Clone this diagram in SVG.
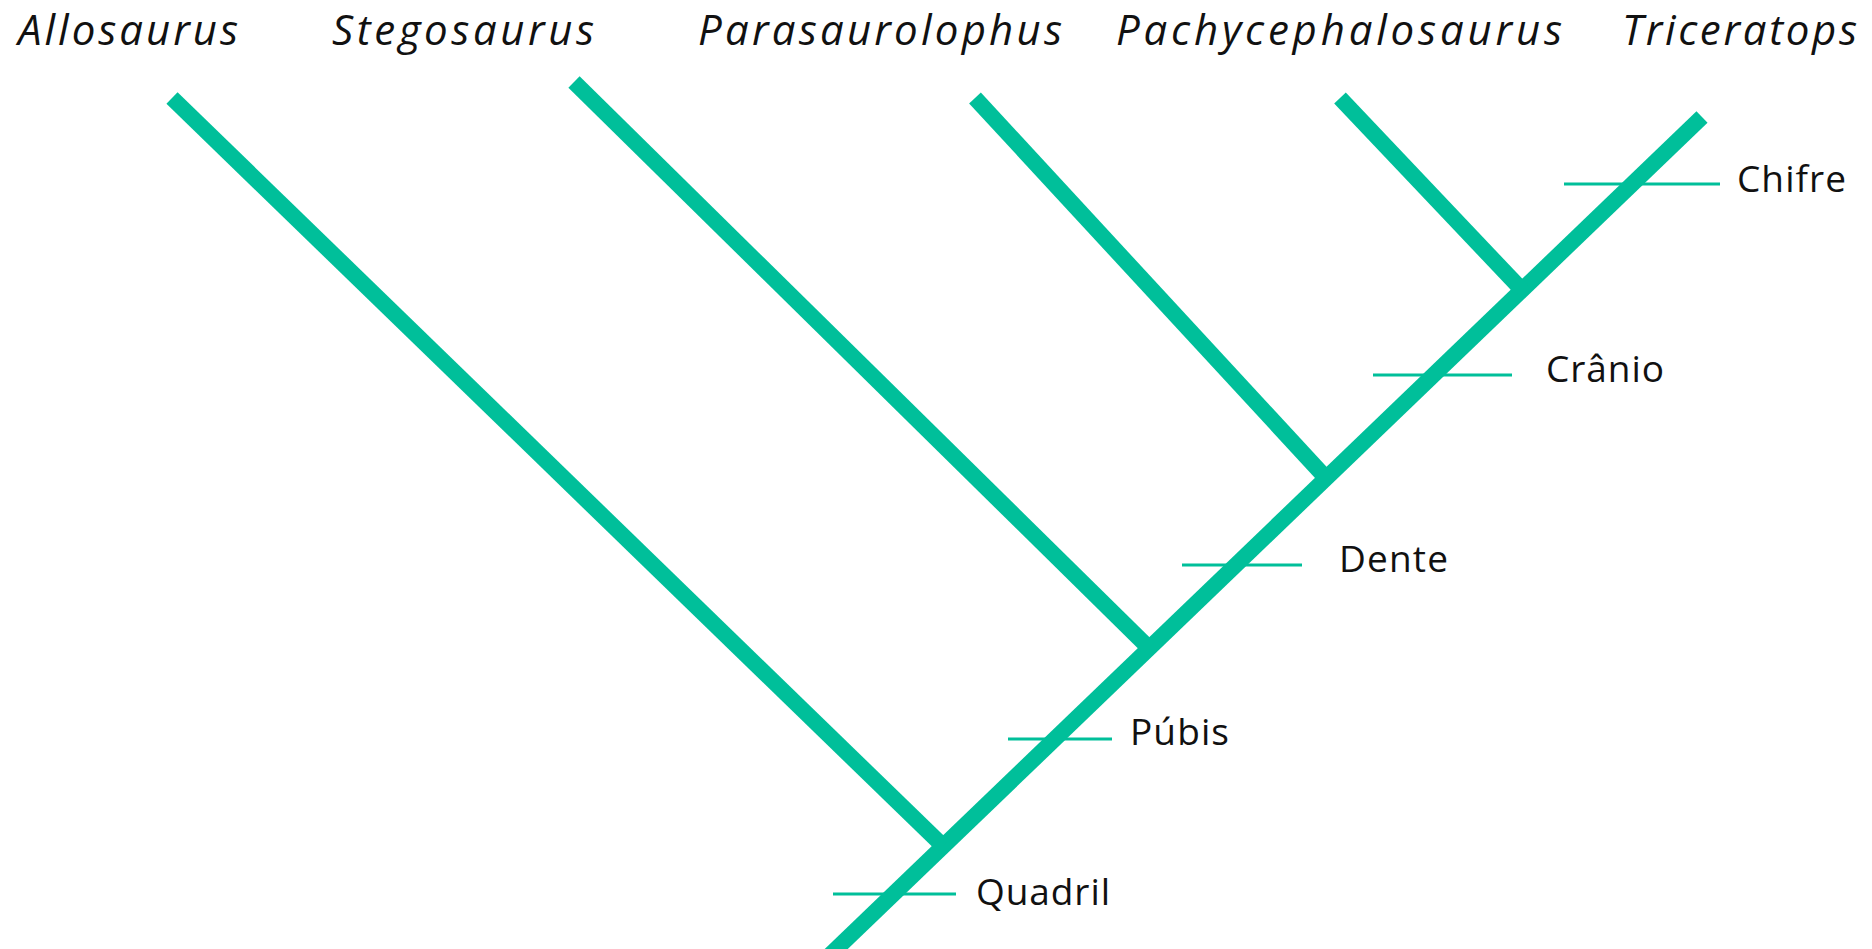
<svg xmlns="http://www.w3.org/2000/svg" width="1872" height="949" viewBox="0 0 1872 949">
<style>
.br{stroke:#00bf9a;stroke-width:16;stroke-linecap:butt;fill:none}
.tk{stroke:#00bf9a;stroke-width:3;fill:none}
.ti{font-family:"Open Sans","Liberation Sans",sans-serif;font-style:italic;font-size:42px;fill:#111}
.lb{font-family:"Open Sans","Liberation Sans",sans-serif;font-size:37px;fill:#111}
</style>
<rect width="1872" height="949" fill="#fff"/>
<g id="connectors">
<line class="br" x1="830" y1="955" x2="1702" y2="117"/>
<line class="br" x1="172" y1="98" x2="943" y2="846"/>
<line class="br" x1="574" y1="82" x2="1149" y2="648"/>
<line class="br" x1="975" y1="98" x2="1326" y2="478"/>
<line class="br" x1="1340" y1="98" x2="1522" y2="290"/>
</g>
<g id="taxon-allosaurus"><text class="ti" x="18" y="45" textLength="220">Allosaurus</text></g>
<g id="taxon-stegosaurus"><text class="ti" x="332" y="45" textLength="262">Stegosaurus</text></g>
<g id="taxon-parasaurolophus"><text class="ti" x="698" y="45" textLength="364">Parasaurolophus</text></g>
<g id="taxon-pachycephalosaurus"><text class="ti" x="1116" y="45" textLength="446">Pachycephalosaurus</text></g>
<g id="taxon-triceratops"><text class="ti" x="1622" y="45" textLength="235">Triceratops</text></g>
<g id="trait-chifre"><line class="tk" x1="1564" y1="184" x2="1720" y2="184"/><text class="lb" x="1737" y="192" textLength="109">Chifre</text></g>
<g id="trait-cranio"><line class="tk" x1="1373" y1="375" x2="1512" y2="375"/><text class="lb" x="1546" y="382" textLength="118">Crânio</text></g>
<g id="trait-dente"><line class="tk" x1="1182" y1="565" x2="1302" y2="565"/><text class="lb" x="1339" y="572" textLength="109">Dente</text></g>
<g id="trait-pubis"><line class="tk" x1="1008" y1="739" x2="1112" y2="739"/><text class="lb" x="1130" y="745" textLength="99">Púbis</text></g>
<g id="trait-quadril"><line class="tk" x1="833" y1="894" x2="956" y2="894"/><text class="lb" x="976" y="905" textLength="134">Quadril</text></g>
</svg>
